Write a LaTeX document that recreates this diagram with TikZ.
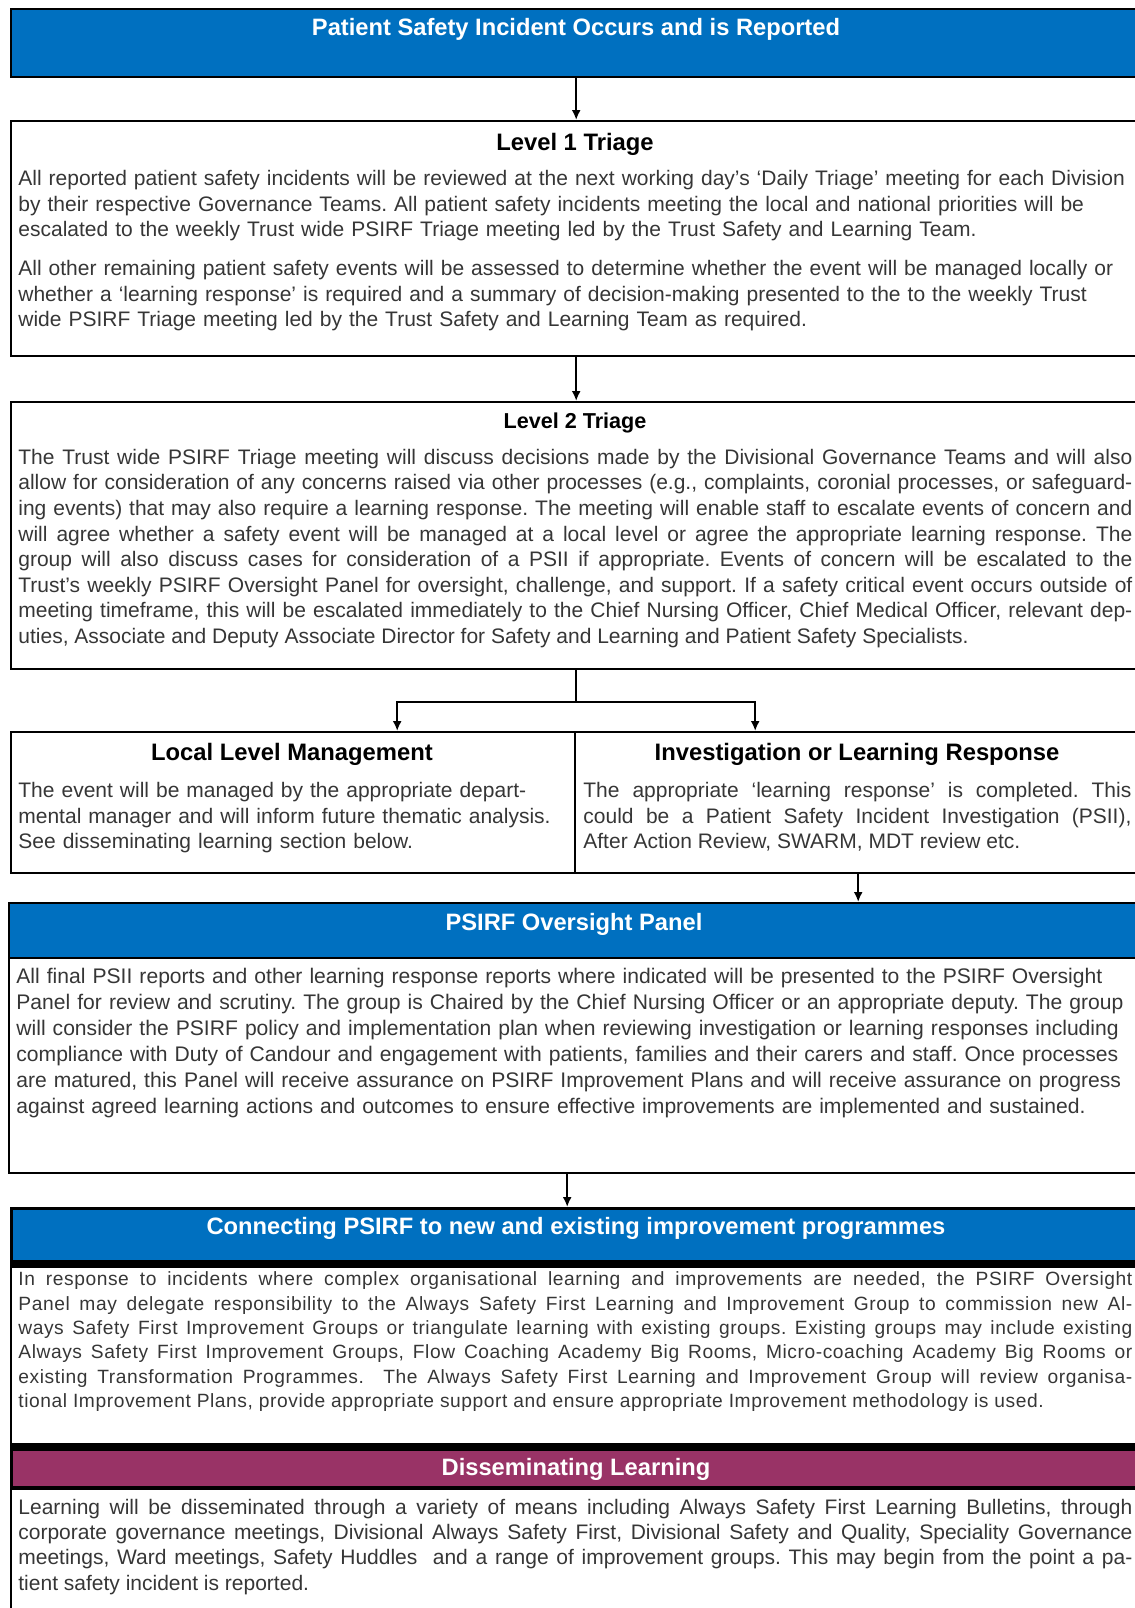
\documentclass[tikz,border=0pt]{standalone}
\usepackage{fontspec}
\setmainfont{Liberation Sans}
\newfontfamily\spacedfont[LetterSpace=3]{Liberation Sans}
\usetikzlibrary{arrows.meta}
\definecolor{psblue}{HTML}{0070C0}
\definecolor{psmaroon}{HTML}{993366}
\definecolor{psgrey}{HTML}{363636}
\frenchspacing

\begin{document}
\begin{tikzpicture}[x=0.5pt, y=-0.5pt, >={Latex[length=5pt,width=4.5pt]},
  frame/.style={draw, line width=1.2pt, anchor=north west, inner sep=0pt},
  head/.style={frame, fill=psblue},
  headtext/.style={anchor=base, inner sep=0pt, text=white, font=\bfseries\fontsize{11.85}{13}\selectfont},
  title/.style={anchor=base, inner sep=0pt, font=\bfseries\fontsize{11.9}{13}\selectfont},
  body/.style={anchor=base west, inner sep=0pt, text width=557pt, align=left, text=psgrey, font=\fontsize{10.5}{12.8}\selectfont},
  bodyj/.style={body, align=justify},
  bar/.style={line width=4pt}]
\useasboundingbox (0,0) rectangle (1135,1608);

% boxes
\node[head, minimum width=565pt, minimum height=34pt] (I) at (10,8) {};
\node[frame, minimum width=565pt, minimum height=117.5pt] (T1) at (10,120) {};
\node[frame, minimum width=565pt, minimum height=133.5pt] (T2) at (10,401) {};
\node[frame, minimum width=282pt, minimum height=70.5pt] (L) at (10,731) {};
\node[frame, minimum width=283pt, minimum height=70.5pt] (R) at (574,731) {};
\node[head, minimum width=566pt, minimum height=27.5pt] (O) at (8,902) {};
\node[frame, minimum width=566pt, minimum height=107.5pt] (OB) at (8,957) {};
\node[frame, minimum width=565pt, minimum height=89pt] (CB) at (10,1265) {};
\node[head, line width=1.5pt, minimum width=565pt, minimum height=27pt] (C) at (10,1207) {};
\draw[bar] (C.south west) -- (C.south east);
\node[frame, minimum width=565pt, minimum height=66pt] (DB) at (10,1488) {};
\node[head, fill=psmaroon, line width=1.5pt, minimum width=565pt, minimum height=19.5pt] (D) at (10,1447) {};
\draw[bar] (D.north west) -- (D.north east);

% texts
\node[headtext] (It) at (576,35) {Patient Safety Incident Occurs and is Reported};

\node[title] (T1t) at (575,150) {Level 1 Triage};
\node[body] (T1b) at (18,185.5) {All reported patient safety incidents will be reviewed at the next working day’s ‘Daily Triage’ meeting for each Division\\
by their respective Governance Teams. All patient safety incidents meeting the local and national priorities will be\\
escalated to the weekly Trust wide PSIRF Triage meeting led by the Trust Safety and Learning Team.\\[6.7pt]
All other remaining patient safety events will be assessed to determine whether the event will be managed locally or\\
whether a ‘learning response’ is required and a summary of decision-making presented to the to the weekly Trust\\
wide PSIRF Triage meeting led by the Trust Safety and Learning Team as required.};

\node[title, font=\bfseries\fontsize{10.8}{12}\selectfont] (T2t) at (575,428.5) {Level 2 Triage};
\node[bodyj] (T2b) at (18,464.3) {The Trust wide PSIRF Triage meeting will discuss decisions made by the Divisional Governance Teams and will also\linebreak
allow for consideration of any concerns raised via other processes (e.g., complaints, coronial processes, or safeguard-\linebreak
ing events) that may also require a learning response. The meeting will enable staff to escalate events of concern and\linebreak
will agree whether a safety event will be managed at a local level or agree the appropriate learning response. The\linebreak
group will also discuss cases for consideration of a PSII if appropriate. Events of concern will be escalated to the\linebreak
Trust’s weekly PSIRF Oversight Panel for oversight, challenge, and support. If a safety critical event occurs outside of\linebreak
meeting timeframe, this will be escalated immediately to the Chief Nursing Officer, Chief Medical Officer, relevant dep-\linebreak
uties, Associate and Deputy Associate Director for Safety and Learning and Patient Safety Specialists.};

\node[title] (Lt) at (292,760) {Local Level Management};
\node[body, text width=272pt] (Lb) at (18,797.5) {The event will be managed by the appropriate depart-\\
mental manager and will inform future thematic analysis.\\
See disseminating learning section below.};
\node[title] (Rt) at (857,760) {Investigation or Learning Response};
\node[bodyj, text width=274pt] (Rb) at (583,797.5) {The appropriate ‘learning response’ is completed. This\linebreak
could be a Patient Safety Incident Investigation (PSII),\linebreak
After Action Review, SWARM, MDT review etc.};

\node[headtext] (Ot) at (574,930) {PSIRF Oversight Panel};
\node[body, text width=558pt, font=\fontsize{10.55}{13}\selectfont] (OBt) at (16,983) {All final PSII reports and other learning response reports where indicated will be presented to the PSIRF Oversight\\
Panel for review and scrutiny. The group is Chaired by the Chief Nursing Officer or an appropriate deputy. The group\\
will consider the PSIRF policy and implementation plan when reviewing investigation or learning responses including\\
compliance with Duty of Candour and engagement with patients, families and their carers and staff. Once processes\\
are matured, this Panel will receive assurance on PSIRF Improvement Plans and will receive assurance on progress\\
against agreed learning actions and outcomes to ensure effective improvements are implemented and sustained.};

\node[headtext] (Ct) at (576,1234.5) {Connecting PSIRF to new and existing improvement programmes};
\node[bodyj, font=\spacedfont\fontsize{9.6}{12.2}\selectfont] (CBt) at (18,1285.6) {In response to incidents where complex organisational learning and improvements are needed, the PSIRF Oversight\linebreak
Panel may delegate responsibility to the Always Safety First Learning and Improvement Group to commission new Al-\linebreak
ways Safety First Improvement Groups or triangulate learning with existing groups. Existing groups may include existing\linebreak
Always Safety First Improvement Groups, Flow Coaching Academy Big Rooms, Micro-coaching Academy Big Rooms or\linebreak
existing Transformation Programmes.\ \ The Always Safety First Learning and Improvement Group will review organisa-\linebreak
tional Improvement Plans, provide appropriate support and ensure appropriate Improvement methodology is used.};

\node[headtext] (Dt) at (576,1475.5) {Disseminating Learning};
\node[bodyj, font=\fontsize{10.5}{12.65}\selectfont] (DBt) at (18,1514.2) {Learning will be disseminated through a variety of means including Always Safety First Learning Bulletins, through\linebreak
corporate governance meetings, Divisional Always Safety First, Divisional Safety and Quality, Speciality Governance\linebreak
meetings, Ward meetings, Safety Huddles\ \ and a range of improvement groups. This may begin from the point a pa-\linebreak
tient safety incident is reported.};

% connectors
\coordinate (S) at ([yshift=-16pt]T2.south);
\draw[->, line width=1pt] (I.south) -- (T1.north);
\draw[->, line width=1pt] (T1.south) -- (T2.north);
\draw[line width=1pt] (T2.south) -- (S);
\draw[->, line width=1pt] (S) -| ([xshift=52pt]L.north);
\draw[->, line width=1pt] (S) -| ([xshift=-51.5pt]R.north);
\draw[->, line width=1pt] (R.south) -- (R.south |- O.north);
\draw[->, line width=1pt] ([xshift=-4pt]OB.south) -- ([xshift=-4pt]OB.south |- C.north);
\end{tikzpicture}
\end{document}
